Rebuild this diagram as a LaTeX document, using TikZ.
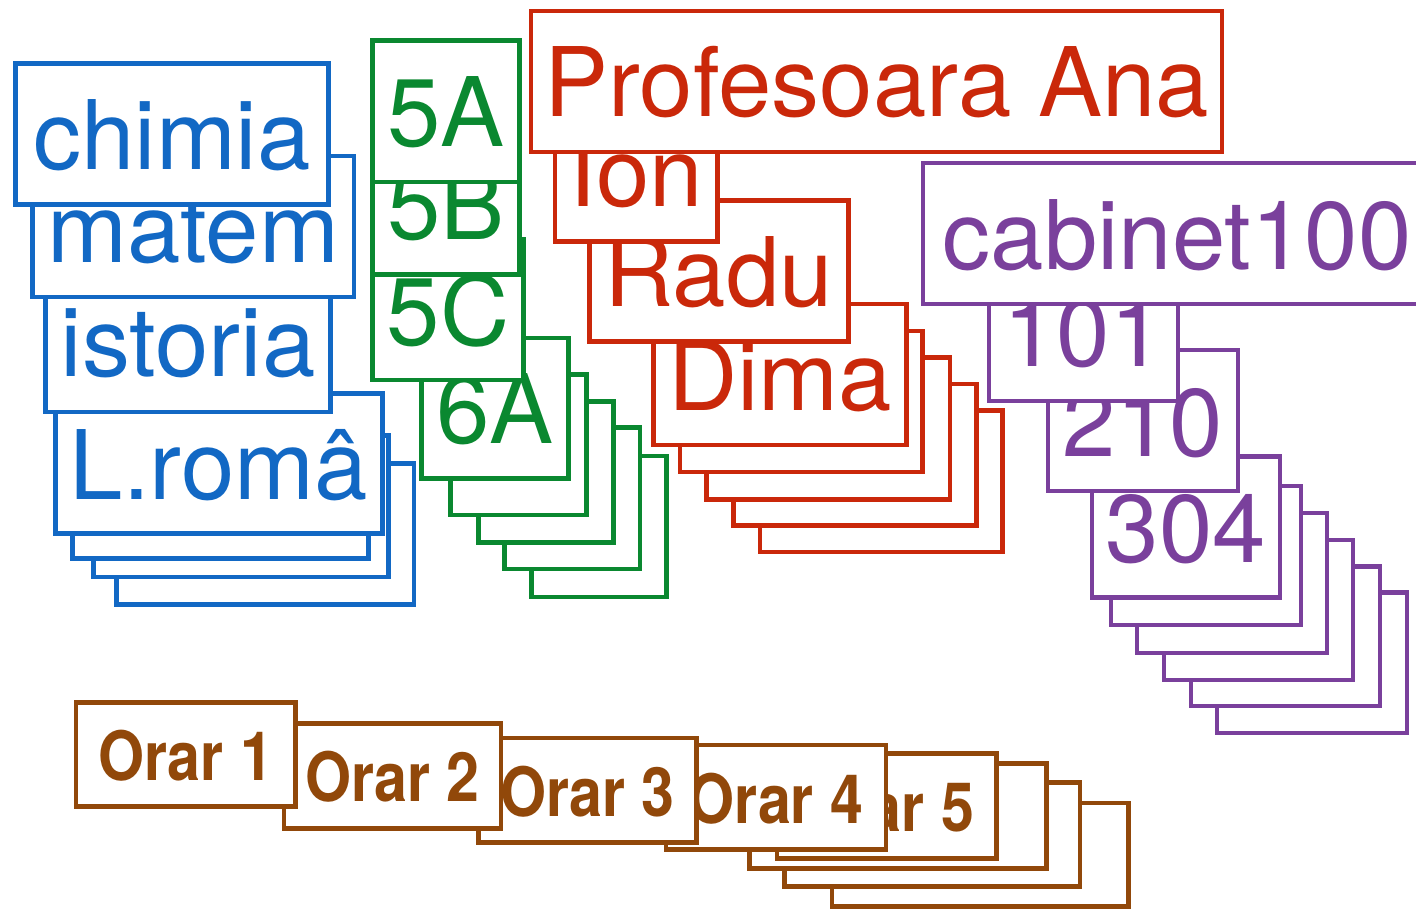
\documentclass[tikz,border=0pt]{standalone}
\usepackage{fontspec}
\setmainfont{TeX Gyre Heros}
\usepackage{graphicx}
\definecolor{cblue}{RGB}{18,104,196}
\definecolor{cgreen}{RGB}{10,136,48}
\definecolor{cred}{RGB}{202,40,10}
\definecolor{cpurple}{RGB}{122,64,156}
\definecolor{cbrown}{RGB}{145,72,10}
\newcommand\bx[7]{%
  \pgfmathsetmacro\bxw{#5-#3}\pgfmathsetmacro\bxh{#6-#4}%
  \pgfmathsetmacro\bxx{(#3+#5)/2}\pgfmathsetmacro\bxy{(#4+#6)/2}%
  \node[#2, minimum width=\bxw pt, minimum height=\bxh pt] (#1) at (\bxx,\bxy) {#7};}
\newcommand\orartxt[1]{\scalebox{0.87}[1]{#1}}
\begin{document}
\begin{tikzpicture}[x=1pt,y=-1pt,
  card/.style={draw, fill=white, line width=4.5pt, inner sep=0pt, text height=71pt, text depth=0pt, font=\fontsize{96}{100}\selectfont},
  blu/.style={card, draw=cblue, text=cblue},
  grn/.style={card, draw=cgreen, text=cgreen},
  rd/.style={card, draw=cred, text=cred},
  prp/.style={card, draw=cpurple, text=cpurple},
  orar/.style={draw=cbrown, text=cbrown, fill=white, line width=4.5pt, inner sep=0pt, text height=52pt, text depth=0pt, font=\fontsize{68}{72}\selectfont\bfseries}]
\useasboundingbox (0,0) rectangle (1416,910);
\clip (0,0) rectangle (1416,910);
% blue stack
\bx{b7}{blu}{116.7}{463.5}{414}{604.5}{}
\bx{b6}{blu}{93.3}{435.5}{388.3}{577}{}
\bx{b5}{blu}{72.3}{417}{368.3}{558.4}{}
\bx{lroma}{blu}{55.7}{393.6}{382.3}{533.6}{L.româ}
\bx{istoria}{blu}{45.7}{271}{330.7}{411.8}{istoria}
\bx{matem}{blu}{32.3}{156}{354}{297}{matem}
\bx{chimia}{blu}{15.7}{63.5}{328.3}{204.5}{chimia}
% green stack
\bx{g8}{grn}{531.7}{456}{666.7}{597}{}
\bx{g7}{grn}{504.3}{427.5}{640}{569}{}
\bx{g6}{grn}{478.3}{401.5}{613.3}{542.5}{}
\bx{g5}{grn}{450.7}{374.4}{586.7}{515}{}
\bx{c6A}{grn}{421.7}{338}{568.3}{478.5}{6A}
\bx{c5C}{grn}{372.7}{239}{523.3}{380}{5C}
\bx{c5B}{grn}{372.7}{133.5}{519.3}{274.4}{5B}
\bx{c5A}{grn}{372.7}{40.4}{519.3}{181.8}{5A}
% red stack
\bx{r8}{rd}{760}{410.3}{1002.7}{552}{}
\bx{r7}{rd}{733.3}{384}{976.7}{525.4}{}
\bx{r6}{rd}{706.7}{357.7}{950}{499.3}{}
\bx{r5}{rd}{680}{331}{922.7}{472}{}
\bx{dima}{rd}{653.3}{304}{906.7}{445}{Dima}
\bx{radu}{rd}{589.3}{200.4}{848.3}{341.3}{Radu}
\bx{ion}{rd}{555}{100.5}{717.3}{241.5}{Ion}
\bx{ana}{rd}{531}{10.9}{1222}{151.8}{Profesoara Ana}
% purple stack
\bx{p9}{prp}{1217}{592.5}{1407}{733}{}
\bx{p8}{prp}{1191}{566.5}{1380}{706}{}
\bx{p7}{prp}{1164}{540}{1353}{680}{}
\bx{p6}{prp}{1137}{513}{1327}{653}{}
\bx{p5}{prp}{1111}{486}{1301}{625}{}
\bx{k304}{prp}{1092}{456.5}{1280}{597.5}{304}
\bx{k210}{prp}{1048}{350}{1238}{491}{210}
\bx{k101}{prp}{989}{260}{1178}{401}{101}
\bx{cab}{prp}{923}{163}{1431}{304}{cabinet100}
% brown stack
\bx{o8}{orar}{832}{803}{1128.6}{906.7}{}
\bx{o7}{orar}{784.6}{782.7}{1080}{886.7}{}
\bx{o6}{orar}{749.3}{763.3}{1046.4}{868.3}{}
\bx{orar5}{orar}{777}{753.3}{996.4}{858.3}{\orartxt{Orar 5}}
\bx{orar4}{orar}{666}{745}{886}{849.3}{\orartxt{Orar 4}}
\bx{orar3}{orar}{478.6}{738}{696.4}{842.7}{\orartxt{Orar 3}}
\bx{orar2}{orar}{284}{723.3}{501}{828.3}{\orartxt{Orar 2}}
\bx{orar1}{orar}{76}{702.3}{295.7}{806.7}{\orartxt{Orar 1}}
\end{tikzpicture}
\end{document}
